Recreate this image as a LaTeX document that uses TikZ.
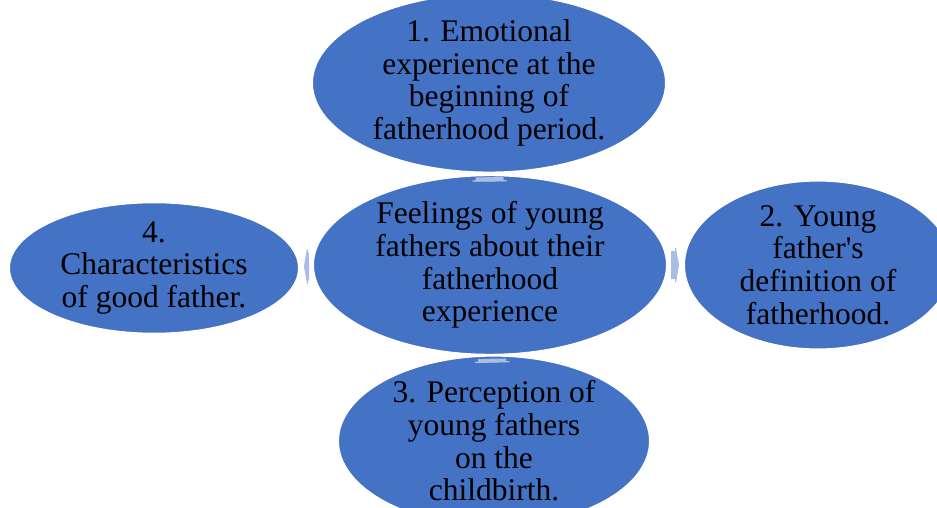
\documentclass[tikz,border=0pt]{standalone}
\usepackage{fontspec}
\setmainfont{Liberation Serif}
\usetikzlibrary{shapes.geometric,arrows.meta}
\definecolor{themeblue}{HTML}{4472C4}
\definecolor{arrowblue}{HTML}{AABDE4}
\begin{document}
\begin{tikzpicture}[x=1pt,y=-1pt,
  bubble/.style={ellipse, fill=themeblue, draw=white, line width=2pt, inner sep=0pt,
    align=center, font=\fontsize{31.5}{32.7}\selectfont},
  link/.style={arrowblue, line width=28pt, -{Triangle[length=4pt,width=46pt]}}]
	\useasboundingbox (0,0) rectangle (937,508);

            \node[bubble, minimum width=354pt, minimum height=172pt] (centre) at (490,265)
              {Feelings of young\\fathers about their\\fatherhood\\experience};
            \node[bubble, minimum width=354pt, minimum height=158pt] (top) at (489,83)
              {1. Emotional\\experience at the\\beginning of\\fatherhood period.};
            \node[bubble, minimum width=268pt, minimum height=156pt] (right) at (818,265)
              {2. Young\\father\textquotesingle s\\definition of\\fatherhood.};
            \node[bubble, minimum width=312pt, minimum height=152pt] (bottom) at (494,441)
              {3. Perception of\\young fathers\\on the\\childbirth.};
            \node[bubble, minimum width=290pt, minimum height=114pt] (left) at (154,268)
              {4.\\Characteristics\\of good father.};

            \foreach \target in {top,right,bottom,left}{
              \draw[link, shorten <=3pt, shorten >=4pt] (centre) -- (\target);
            }
        \end{tikzpicture}
\end{document}
